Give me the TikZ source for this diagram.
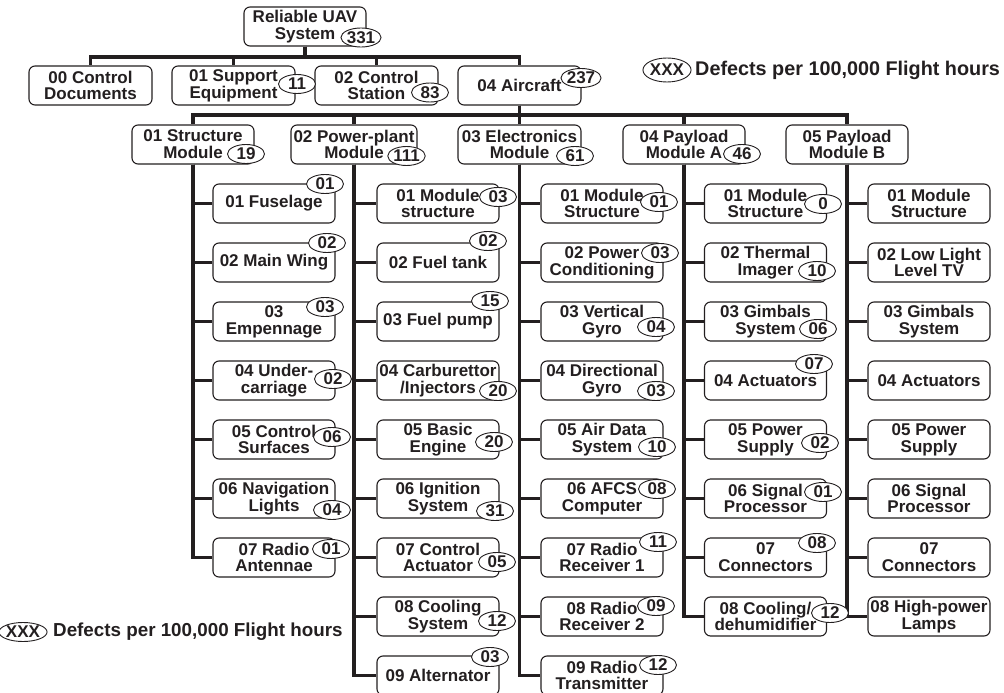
\documentclass[tikz,border=0pt]{standalone}
\usepackage{fontspec}
\setmainfont{Liberation Sans}
\usetikzlibrary{shapes.geometric}
\definecolor{ink}{HTML}{231F20}
\newcommand\bxfont{\fontsize{17}{16.8}\selectfont\bfseries}
\newcommand\lgfont{\fontsize{18.8}{19}\selectfont\bfseries}
\newcommand\lgbigfont{\fontsize{19.8}{20}\selectfont\bfseries}
\tikzset{
  box/.style={draw=ink, text=ink, line width=1.1pt, rounded corners=6pt, fill=white,
    minimum width=122pt, minimum height=39pt, inner sep=0pt, align=center, font=\bxfont},
  ell/.style={draw=ink, text=ink, ellipse, fill=white, line width=0.9pt,
    minimum width=37pt, minimum height=19pt, inner sep=0pt, font=\bxfont},
  conn/.style={draw=ink, line width=3.2pt},
  legend/.style={text=ink, font=\lgfont, inner sep=0pt, anchor=west}
}
\begin{document}
\begin{tikzpicture}[x=1pt, y=-1pt]
\useasboundingbox (0,0) rectangle (1004,693);
\coordinate (bus1) at (0,57);
\coordinate (bus2) at (0,115);
% root and level 1
\node[box] (root) at (305,26.5) {Reliable UAV\\System};
\node[box, minimum width=123pt] (c00) at (90.5,85.5) {00 Control\\Documents};
\node[box, minimum width=123pt] (c01) at (233.5,85.5) {01 Support\\Equipment};
\node[box, minimum width=123pt] (c02) at (376.5,85.5) {02 Control\\Station};
\node[box, minimum width=123pt] (c04) at (519.5,85.5) {04 Aircraft};
% level 2
\node[box] (s1) at (193,144.5) {01 Structure\\Module};
\node[box, minimum width=126pt] (s2) at (354,144.5) {02 Power-plant\\Module};
\node[box, minimum width=123pt] (s3) at (519.5,144.5) {03 Electronics\\Module};
\node[box] (s4) at (684,144.5) {04 Payload\\Module A};
\node[box] (s5) at (847,144.5) {05 Payload\\Module B};
% connectors top
\foreach \c in {c00,c01,c02,c04}
  \draw[conn] (root.south) -- (root.south |- bus1) -| (\c.north);
\foreach \c in {s1,s2,s3,s4,s5}
  \draw[conn] (c04.south) -- (c04.south |- bus2) -| (\c.north);
% column 1
\node[box] (s1a) at (274,203.5) {01 Fuselage};
\node[box] (s1b) at (274,262.5) {02 Main Wing};
\node[box] (s1c) at (274,321.5) {03\\Empennage};
\node[box] (s1d) at (274,380.5) {04 Under-\\carriage};
\node[box] (s1e) at (274,439.5) {05 Control\\Surfaces};
\node[box] (s1f) at (274,498.5) {06 Navigation\\Lights};
\node[box] (s1g) at (274,557.5) {07 Radio\\Antennae};
% column 2
\node[box] (s2a) at (438,203.5) {01 Module\\structure};
\node[box] (s2b) at (438,262.5) {02 Fuel tank};
\node[box] (s2c) at (438,321.5) {03 Fuel pump};
\node[box] (s2d) at (438,380.5) {04 Carburettor\\/Injectors};
\node[box] (s2e) at (438,439.5) {05 Basic\\Engine};
\node[box] (s2f) at (438,498.5) {06 Ignition\\System};
\node[box] (s2g) at (438,557.5) {07 Control\\Actuator};
\node[box] (s2h) at (438,616.5) {08 Cooling\\System};
\node[box] (s2i) at (438,675.5) {09 Alternator};
% column 3
\node[box] (s3a) at (602,203.5) {01 Module\\Structure};
\node[box] (s3b) at (602,262.5) {02 Power\\Conditioning};
\node[box] (s3c) at (602,321.5) {03 Vertical\\Gyro};
\node[box] (s3d) at (602,380.5) {04 Directional\\Gyro};
\node[box] (s3e) at (602,439.5) {05 Air Data\\System};
\node[box] (s3f) at (602,498.5) {06 AFCS\\Computer};
\node[box] (s3g) at (602,557.5) {07 Radio\\Receiver 1};
\node[box] (s3h) at (602,616.5) {08 Radio\\Receiver 2};
\node[box] (s3i) at (602,675.5) {09 Radio\\Transmitter};
% column 4
\node[box] (s4a) at (765.5,203.5) {01 Module\\Structure};
\node[box] (s4b) at (765.5,262.5) {02 Thermal\\Imager};
\node[box] (s4c) at (765.5,321.5) {03 Gimbals\\System};
\node[box] (s4d) at (765.5,380.5) {04 Actuators};
\node[box] (s4e) at (765.5,439.5) {05 Power\\Supply};
\node[box] (s4f) at (765.5,498.5) {06 Signal\\Processor};
\node[box] (s4g) at (765.5,557.5) {07\\Connectors};
\node[box] (s4h) at (765.5,616.5) {08 Cooling/\\dehumidifier};
% column 5
\node[box] (s5a) at (929,203.5) {01 Module\\Structure};
\node[box] (s5b) at (929,262.5) {02 Low Light\\Level TV};
\node[box] (s5c) at (929,321.5) {03 Gimbals\\System};
\node[box] (s5d) at (929,380.5) {04 Actuators};
\node[box] (s5e) at (929,439.5) {05 Power\\Supply};
\node[box] (s5f) at (929,498.5) {06 Signal\\Processor};
\node[box] (s5g) at (929,557.5) {07\\Connectors};
\node[box] (s5h) at (929,616.5) {08 High-power\\Lamps};
% leaf connectors
\foreach \l in {a,b,c,d,e,f,g} \draw[conn] (s1.south) |- (s1\l.west);
\foreach \l in {a,b,c,d,e,f,g,h,i} \draw[conn] (s2.south) |- (s2\l.west);
\foreach \l in {a,b,c,d,e,f,g,h,i} \draw[conn] (s3.south) |- (s3\l.west);
\foreach \l in {a,b,c,d,e,f,g,h} \draw[conn] (s4.south) |- (s4\l.west);
\foreach \l in {a,b,c,d,e,f,g,h} \draw[conn] (s5.south) |- (s5\l.west);
% defect ellipses
\node[ell] (eroot) at (361,37.5) {331};
\node[ell] (ec01) at (297,84) {11};
\node[ell] (ec02) at (430,92.5) {83};
\node[ell] (ec04) at (581,78) {237};
\node[ell] (es1) at (246,154) {19};
\node[ell] (es2) at (406.5,156) {111};
\node[ell] (es3) at (575,156) {61};
\node[ell] (es4) at (742,154) {46};
\node[ell] (es1a) at (325,184) {01};
\node[ell] (es1b) at (327,243) {02};
\node[ell] (es1c) at (325,307) {03};
\node[ell] (es1d) at (333,379) {02};
\node[ell] (es1e) at (332,437) {06};
\node[ell] (es1f) at (332,510) {04};
\node[ell] (es1g) at (331,549) {01};
\node[ell] (es2a) at (498,197) {03};
\node[ell] (es2b) at (488,241) {02};
\node[ell] (es2c) at (490,301) {15};
\node[ell] (es2d) at (498,391) {20};
\node[ell] (es2e) at (494,442) {20};
\node[ell] (es2f) at (495,511) {31};
\node[ell] (es2g) at (497,562) {05};
\node[ell] (es2h) at (497,621) {12};
\node[ell] (es2i) at (490,657) {03};
\node[ell] (es3a) at (659,202) {01};
\node[ell] (es3b) at (660,253) {03};
\node[ell] (es3c) at (656,327) {04};
\node[ell] (es3d) at (656,391) {03};
\node[ell] (es3e) at (657,447) {10};
\node[ell] (es3f) at (657,489) {08};
\node[ell] (es3g) at (658,542) {11};
\node[ell] (es3h) at (656,606) {09};
\node[ell] (es3i) at (658,665) {12};
\node[ell] (es4a) at (823,204) {0};
\node[ell] (es4b) at (817,271) {10};
\node[ell] (es4c) at (818,329) {06};
\node[ell] (es4d) at (814,364) {07};
\node[ell] (es4e) at (820,443) {02};
\node[ell] (es4f) at (823,492) {01};
\node[ell] (es4g) at (817,543) {08};
\node[ell] (es4h) at (830,613) {12};
% legends
\node[ell, minimum width=38pt, minimum height=24pt] (lg1e) at (667,70) {XXX};
\node[legend, font=\lgbigfont] (lg1t) at (695,70) {Defects per 100,000 Flight hours};
\node[ell] (lg2e) at (23,632) {XXX};
\node[legend] (lg2t) at (53,632) {Defects per 100,000 Flight hours};
\end{tikzpicture}
\end{document}
